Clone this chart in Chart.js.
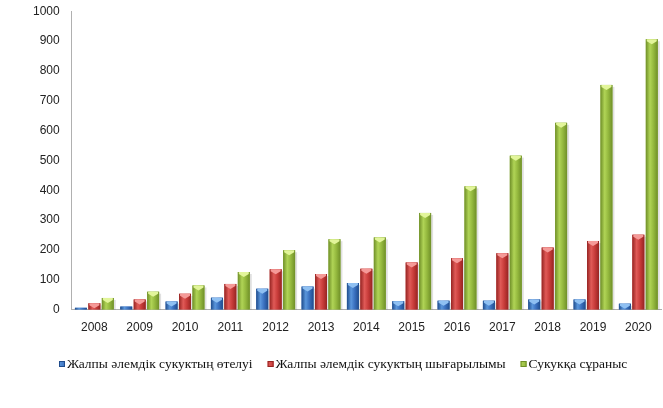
<!DOCTYPE html>
<html><head><meta charset="utf-8">
<script src="https://cdn.jsdelivr.net/npm/chart.js@4/dist/chart.umd.min.js"></script>
<style>html,body{margin:0;padding:0;background:#fff;overflow:hidden;}#wrap{width:663px;height:408px;position:relative;overflow:hidden;}#c{position:absolute;left:0;top:-8px;}</style>
</head><body><div id="wrap"><canvas id="c" width="663" height="416"></canvas></div>
<script>
const years = ['2008','2009','2010','2011','2012','2013','2014','2015','2016','2017','2018','2019','2020'];
const repayment = [6, 10, 27, 40, 70, 77, 89, 28, 30, 30, 34, 34, 20];
const issuance = [21, 34, 53, 86, 135, 119, 137, 158, 172, 189, 208, 230, 251];
const demand = [39, 60, 81, 126, 199, 236, 242, 324, 413, 516, 626, 753, 906];
const seriesNames = ['Жалпы әлемдік сукуктың өтелуі','Жалпы әлемдік сукуктың шығарылымы','Сукукқа сұраныс'];
const yTicks = [0,100,200,300,400,500,600,700,800,900,1000];

const palettes = [
  {base:'#3a70bf', edge:'#1f4c8c', mid:'#5a96dc', top:'#8fc0f2'},
  {base:'#c83c3a', edge:'#962422', mid:'#e05a57', top:'#f59a98'},
  {base:'#94b83e', edge:'#6f8f28', mid:'#b0d456', top:'#e2f59a'}
];

const barStyle = {
  id:'barStyle',
  afterDatasetsDraw(chart){
    const ctx = chart.ctx;
    chart.data.datasets.forEach((ds, di)=>{
      const meta = chart.getDatasetMeta(di);
      const p = palettes[di];
      meta.data.forEach(el=>{
        const {x,y,base,width} = el.getProps(['x','y','base','width'], true);
        const x0 = x - width/2, x1 = x + width/2;
        const h = base - y;
        ctx.save();
        ctx.fillStyle = 'rgba(0,0,0,0.12)';
        ctx.fillRect(x1, y+2, 2, h-2);
        const g = ctx.createLinearGradient(x0,0,x1,0);
        g.addColorStop(0, p.edge);
        g.addColorStop(0.35, p.mid);
        g.addColorStop(0.65, p.base);
        g.addColorStop(1, p.edge);
        ctx.fillStyle = g;
        ctx.fillRect(x0, y, width, h);
        if (h > 3) {
          ctx.fillStyle = p.top;
          ctx.beginPath();
          ctx.moveTo(x0+1, y);
          ctx.lineTo(x1-1, y);
          ctx.lineTo(x1-1, y+Math.min(2,h));
          ctx.lineTo(x, y+Math.min(5,h));
          ctx.lineTo(x0+1, y+Math.min(2,h));
          ctx.closePath();
          ctx.fill();
        }
        ctx.restore();
      });
    });
  }
};

const legendDraw = {
  id:'legendDraw',
  afterDraw(chart){
    const ctx = chart.ctx;
    ctx.save();
    ctx.font = '13.5px "Liberation Serif", "Times New Roman", serif';
    ctx.textBaseline = 'middle';
    let x = 59;
    const yc = 364 + 8;
    chart.data.datasets.forEach((ds,i)=>{
      const p = palettes[i];
      const g = ctx.createLinearGradient(x,0,x+6,0);
      g.addColorStop(0,p.mid); g.addColorStop(1,p.base);
      ctx.fillStyle = g;
      ctx.fillRect(x, yc-3, 6, 6);
      ctx.strokeStyle = p.edge; ctx.lineWidth = 1;
      ctx.strokeRect(x+0.5, yc-2.5, 5, 5);
      ctx.fillStyle = '#111';
      ctx.fillText(ds.label, x+8, yc);
      x += 8 + ctx.measureText(ds.label).width + 15;
    });
    ctx.restore();
  }
};

new Chart(document.getElementById('c'), {
  type:'bar',
  data:{
    labels: years,
    datasets:[
      {label:seriesNames[0], data:repayment, backgroundColor:palettes[0].base},
      {label:seriesNames[1], data:issuance, backgroundColor:palettes[1].base},
      {label:seriesNames[2], data:demand, backgroundColor:palettes[2].base}
    ]
  },
  options:{
    responsive:false,
    animation:false,
    devicePixelRatio:1,
    layout:{padding:{top:0,right:2,left:21,bottom:62}},
    datasets:{bar:{categoryPercentage:0.89, barPercentage:0.89}},
    scales:{
      x:{
        grid:{display:false, drawTicks:false},
        border:{display:true, color:'#b0b0b0', width:1},
        ticks:{color:'#222', font:{family:'Liberation Sans, Arial', size:12}, padding:11}
      },
      y:{
        min:0, max:1000,
        afterBuildTicks(axis){ axis.ticks = yTicks.map(v=>({value:v})); },
        grid:{display:false, drawTicks:false},
        border:{display:true, color:'#b0b0b0', width:1},
        ticks:{color:'#222', font:{family:'Liberation Sans, Arial', size:12}, padding:12,
          callback:(v)=>String(v)}
      }
    },
    plugins:{
      tooltip:{enabled:false},
      legend:{display:false}
    }
  },
  plugins:[barStyle, legendDraw]
});
</script>
</body></html>
